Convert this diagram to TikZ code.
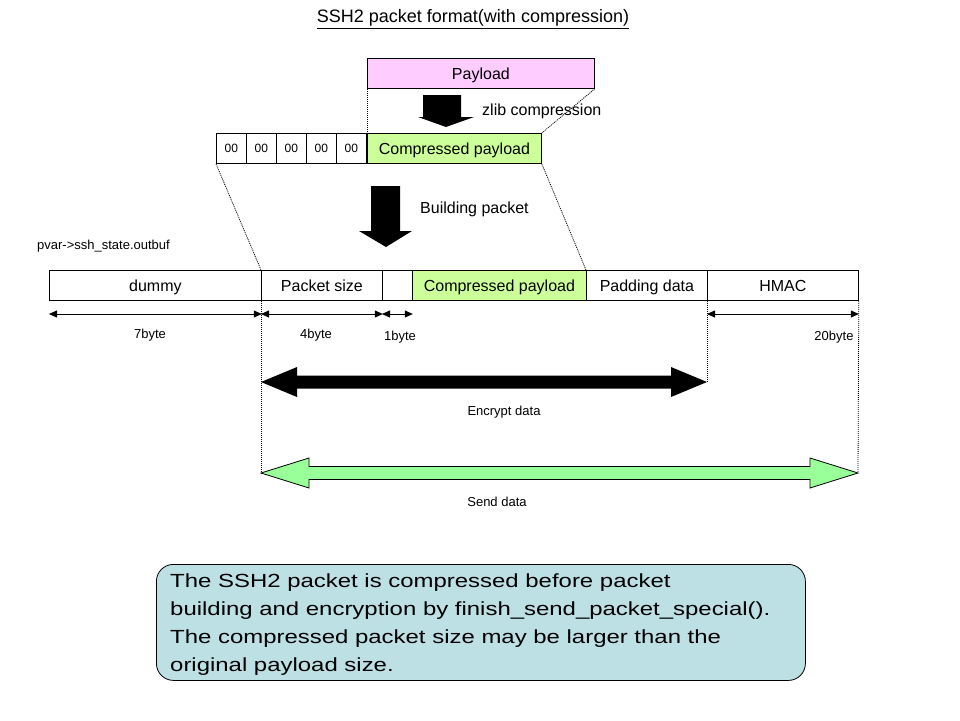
\documentclass[tikz,border=0pt]{standalone}
\usepackage{fontspec}
\setmainfont{Liberation Sans}
\newfontfamily\notefont[FakeStretch=1.26]{Liberation Sans}
\usetikzlibrary{calc}
\usetikzlibrary{arrows.meta}

\definecolor{paypink}{RGB}{255,204,255}
\definecolor{compgreen}{RGB}{204,255,153}
\definecolor{sendgreen}{RGB}{153,255,153}
\definecolor{notecyan}{RGB}{188,224,228}

\begin{document}
\begin{tikzpicture}[x=1pt, y=-1pt,
  field/.style={draw, line width=0.8pt, anchor=north west, minimum height=30pt, inner sep=0pt, text height=12pt, text depth=0pt, font=\fontsize{16}{19}\selectfont},
  zerofield/.style={field, minimum width=30pt, text height=9pt, font=\fontsize{12}{14}\selectfont},
  guide/.style={line width=0.8pt, dash pattern=on 1pt off 1pt},
  span/.style={line width=0.8pt, {Triangle[length=8pt,width=7pt]}-{Triangle[length=8pt,width=7pt]}},
  lbl/.style={font=\fontsize{13}{15}\selectfont, inner sep=0pt},
  biglbl/.style={font=\fontsize{16}{19}\selectfont, inner sep=0pt, anchor=west}]
\useasboundingbox (0,0) rectangle (960,720);
\node[font=\fontsize{18}{22}\selectfont] (title) at (473,19) {\underline{SSH2 packet format(with compression)}};
% payload before and after zlib
\node[field, fill=paypink, minimum width=227pt] (pay) at (367,58) {Payload};
\foreach \i in {0,...,4}
  \node[zerofield] (z\i) at (216+30*\i,133) {00};
\node[field, fill=compgreen, minimum width=174pt] (cpay) at (367,133) {Compressed payload};
\fill (423,95) -- (461,95) -- (461,117) -- (474,117) -- (446,127) -- (418,117) -- (423,117) -- cycle;
\node[biglbl] (zlib) at (482,111) {zlib compression};
\fill (371,186) -- (400,186) -- (400,231) -- (412,231) -- (386,247) -- (359,231) -- (371,231) -- cycle;
\node[biglbl] (build) at (420,209) {Building packet};
% outbuf
\node[lbl, anchor=west] (outbuf) at (37,246) {pvar->ssh\_state.outbuf};
\node[field, minimum width=212pt] (dummy) at (49,270) {dummy};
\node[field, minimum width=121pt] (psize) at (261,270) {Packet size};
\node[field, minimum width=30pt] (padlen) at (382,270) {};
\node[field, fill=compgreen, minimum width=174pt] (cpay2) at (412,270) {Compressed payload};
\node[field, minimum width=121pt] (pad) at (586,270) {Padding data};
\node[field, minimum width=151pt] (hmac) at (707,270) {HMAC};
\coordinate (dimrow) at (0,314);
\coordinate (encL) at (261,382);
\coordinate (encR) at (707,382);
\coordinate (sendL) at (261,473);
\coordinate (sendR) at (858,473);
% dotted guides
\draw[guide] (pay.south west) -- (cpay.north west);
\draw[guide] (pay.south east) -- (cpay.north east);
\draw[guide] (z0.south west) -- (psize.north west);
\draw[guide] (cpay.south east) -- (pad.north west);
\draw[guide] (psize.south west) -- (sendL);
\draw[guide] (hmac.south west) -- (encR);
\draw[guide] (hmac.south east) -- (sendR);
% sizes
\foreach \n in {dummy,psize,padlen,hmac}
  \draw[span] (\n.west |- dimrow) -- (\n.east |- dimrow);
\node[lbl] (b7) at (150,335) {7byte};
\node[lbl] (b4) at (316,335) {4byte};
\node[lbl] (b1) at (400,337) {1byte};
\node[lbl] (b20) at (834,337) {20byte};
% encrypt / send
\fill (encL) -- (297,367) -- (297,375.5) -- (671,375.5) -- (671,367) -- (encR) -- (671,397) -- (671,388.5) -- (297,388.5) -- (297,397) -- cycle;
\node[lbl] (enc) at (504,412) {Encrypt data};
\filldraw[fill=sendgreen, line width=0.8pt] (sendL) -- (309,458) -- (309,466.5) -- (810,466.5) -- (810,458) -- (sendR) -- (810,488) -- (810,479.5) -- (309,479.5) -- (309,488) -- cycle;
\node[lbl] (send) at (497,502) {Send data};
% note
\node[draw, fill=notecyan, line width=0.8pt, rounded corners=17pt, anchor=north west, minimum width=649pt, minimum height=116pt] (note) at (156,564) {};
\node[anchor=north west, inner sep=0pt, align=left, font=\notefont\fontsize{19}{27.7}\selectfont] (notetext) at (170,574) {The SSH2 packet is compressed before packet\\building and encryption by finish\_send\_packet\_special().\\The compressed packet size may be larger than the\\original payload size.};
\end{tikzpicture}
\end{document}
